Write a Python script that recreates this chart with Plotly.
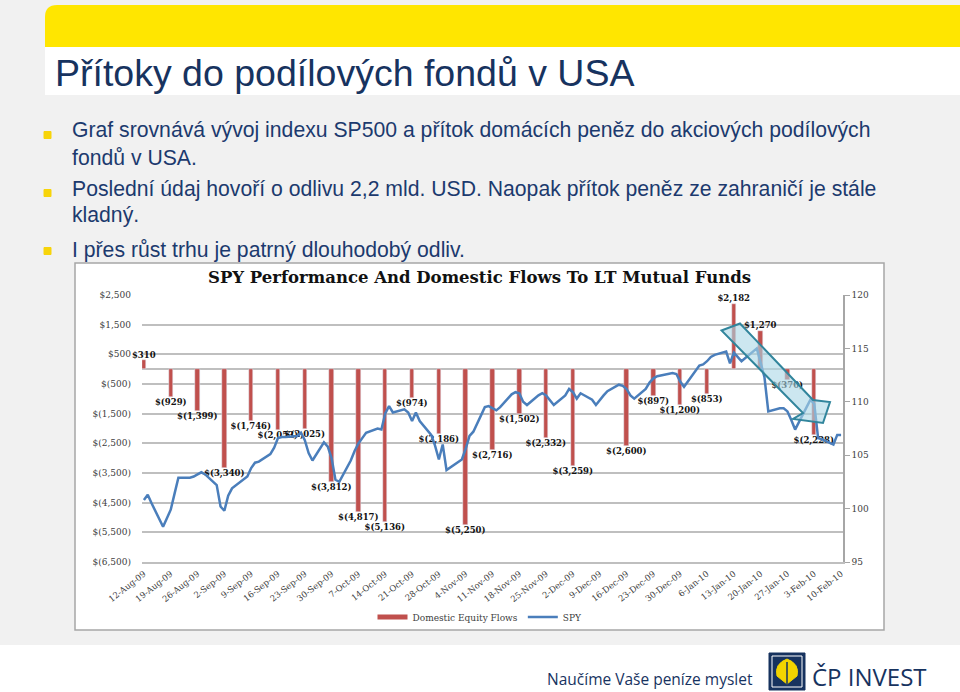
import pandas as pd
import plotly.graph_objects as go

# --- data ---
flow_dates = ["2009-08-12", "2009-08-19", "2009-08-26", "2009-09-02", "2009-09-09",
              "2009-09-16", "2009-09-23", "2009-09-30", "2009-10-07", "2009-10-14",
              "2009-10-21", "2009-10-28", "2009-11-04", "2009-11-11", "2009-11-18",
              "2009-11-25", "2009-12-02", "2009-12-16", "2009-12-23", "2009-12-30",
              "2010-01-06", "2010-01-13", "2010-01-20", "2010-01-27", "2010-02-03"]
flows = [310, -929, -1399, -3340, -1746, -2053, -2025, -3812, -4817, -5136,
         -974, -2186, -5250, -2716, -1502, -2332, -3259, -2600, -897, -1200,
         -853, 2182, 1270, -370, -2228]

market_holidays = ["2009-09-07", "2009-11-26", "2009-12-25", "2010-01-01", "2010-01-18"]
spy_dates = pd.bdate_range("2009-08-12", "2010-02-10", freq="C", holidays=market_holidays)
spy = [100.8, 101.3, 100.5,
       98.3, 99.1, 99.9, 101.4, 102.9,
       102.9, 103.0, 103.2, 103.4, 103.2,
       102.2, 100.2, 99.8, 101.2, 101.9,
       103.0, 103.8, 104.3, 104.4,
       105.1, 105.7, 106.6, 106.7, 106.7,
       106.8, 107.1, 106.4, 105.2, 104.5,
       106.2, 105.8, 104.7, 102.7, 102.5,
       104.5, 105.4, 106.1, 106.6, 107.1,
       107.5, 107.4, 108.9, 109.6, 109.0,
       109.3, 109.0, 108.2, 109.0, 108.2,
       106.9, 105.9, 104.6, 106.0, 103.6,
       104.3, 104.6, 105.6, 106.8, 107.2,
       109.5, 109.6, 109.4, 109.2, 109.5,
       110.7, 110.9, 110.8, 110.0, 109.7,
       110.6, 110.8, 110.6, 109.7,
       110.6, 111.2, 110.9, 110.3, 110.8,
       110.2, 109.7, 110.2, 110.6, 111.0,
       111.6, 111.5, 111.2, 110.6, 110.3,
       111.2, 111.8, 112.2, 112.4,
       112.7, 112.6, 111.9, 111.4,
       113.4, 113.5, 113.8, 114.2, 114.4,
       114.7, 113.6, 114.6, 114.2, 113.8,
       115.0, 113.6, 112.3, 109.1,
       109.4, 109.4, 109.1, 108.3, 107.4,
       109.5, 110.2, 109.8, 106.6, 106.5,
       106.0, 106.9, 106.9]

week_ticks = ["2009-08-12", "2009-08-19", "2009-08-26", "2009-09-02", "2009-09-09",
              "2009-09-16", "2009-09-23", "2009-09-30", "2009-10-07", "2009-10-14",
              "2009-10-21", "2009-10-28", "2009-11-04", "2009-11-11", "2009-11-18",
              "2009-11-25", "2009-12-02", "2009-12-09", "2009-12-16", "2009-12-23",
              "2009-12-30", "2010-01-06", "2010-01-13", "2010-01-20", "2010-01-27",
              "2010-02-03", "2010-02-10"]
week_labels = ["12-Aug-09", "19-Aug-09", "26-Aug-09", "2-Sep-09", "9-Sep-09",
               "16-Sep-09", "23-Sep-09", "30-Sep-09", "7-Oct-09", "14-Oct-09",
               "21-Oct-09", "28-Oct-09", "4-Nov-09", "11-Nov-09", "18-Nov-09",
               "25-Nov-09", "2-Dec-09", "9-Dec-09", "16-Dec-09", "23-Dec-09",
               "30-Dec-09", "6-Jan-10", "13-Jan-10", "20-Jan-10", "27-Jan-10",
               "3-Feb-10", "10-Feb-10"]

flow_ticks = [2500, 1500, 500, -500, -1500, -2500, -3500, -4500, -5500, -6500]
flow_tick_labels = ["$2,500", "$1,500", "$500", "$(500)", "$(1,500)", "$(2,500)",
                    "$(3,500)", "$(4,500)", "$(5,500)", "$(6,500)"]
spy_ticks = [95, 100, 105, 110, 115, 120]

bullets = [
    "Graf srovnává vývoj indexu SP500 a přítok domácích peněz do akciových podílových",
    "fondů v USA.",
    "Poslední údaj hovoří o odlivu 2,2 mld. USD. Naopak přítok peněz ze zahraničí je stále",
    "kladný.",
    "I přes růst trhu je patrný dlouhodobý odliv.",
]

W, H = 960, 692
RED = "#c0504d"
BLUE = "#4a7ebb"
NAVY = "#17335f"
SERIF = "DejaVu Serif"


def px(x):
    return x / W


def py(y):
    return 1 - y / H


def flow_label(v):
    return f"${v:,}" if v >= 0 else f"$({-v:,})"


fig = go.Figure()

fig.add_trace(go.Bar(
    x=flow_dates, y=flows, width=1.15 * 86400000,
    marker_color=RED, showlegend=False,
    text=[flow_label(v) for v in flows], textposition="outside",
    constraintext="none", cliponaxis=False,
    textfont=dict(family=SERIF, size=8.5, color="#111111", weight="bold"),
    hoverinfo="x+y",
))
fig.add_trace(go.Scatter(
    x=spy_dates, y=spy, yaxis="y2", mode="lines",
    line=dict(color=BLUE, width=2.5), showlegend=False,
))
# legend entries drawn as line samples
fig.add_trace(go.Scatter(x=[None], y=[None], mode="lines", name="Domestic Equity Flows",
                         line=dict(color=RED, width=5)))
fig.add_trace(go.Scatter(x=[None], y=[None], mode="lines", name="SPY",
                         line=dict(color=BLUE, width=2.5)))

shapes = [
    # yellow header band with rounded corner
    dict(type="path", xref="paper", yref="paper", layer="below",
         path=f"M {px(45)},{py(47)} L {px(45)},{py(17)} Q {px(45)},{py(5)} {px(57)},{py(5)} "
              f"L {px(960)},{py(5)} L {px(960)},{py(47)} Z",
         fillcolor="#ffe600", line=dict(width=0)),
    dict(type="rect", xref="paper", yref="paper", layer="below",
         x0=px(45), x1=px(960), y0=py(95), y1=py(47), fillcolor="white", line=dict(width=0)),
    # footer
    dict(type="rect", xref="paper", yref="paper", layer="below",
         x0=0, x1=1, y0=0, y1=py(645), fillcolor="white", line=dict(width=0)),
    # chart frame
    dict(type="rect", xref="paper", yref="paper", layer="below",
         x0=px(75), x1=px(884), y0=py(630), y1=py(263), fillcolor="white",
         line=dict(color="#a6a6a6", width=1.5)),
    # logo
    dict(type="rect", xref="paper", yref="paper",
         x0=px(769), x1=px(805), y0=py(690), y1=py(653), fillcolor=NAVY,
         line=dict(color=NAVY, width=1)),
    dict(type="rect", xref="paper", yref="paper",
         x0=px(772), x1=px(802), y0=py(687), y1=py(656), fillcolor=NAVY,
         line=dict(color="white", width=1)),
    dict(type="path", xref="paper", yref="paper",
         path=f"M {px(787)},{py(659)} Q {px(800)},{py(664)} {px(797)},{py(676)} "
              f"L {px(787)},{py(684)} L {px(777)},{py(676)} Q {px(774)},{py(664)} {px(787)},{py(659)} Z",
         fillcolor="#f2d400", line=dict(color="#f2d400", width=1)),
    dict(type="line", xref="paper", yref="paper",
         x0=px(787), x1=px(787), y0=py(684), y1=py(662), line=dict(color=NAVY, width=1.5)),
    # highlighted trend band
    dict(type="path", xref="paper", yref="paper",
         path=f"M {px(721.5)},{py(330.5)} L {px(740)},{py(323.5)} L {px(813)},{py(400)} "
              f"L {px(830)},{py(402)} L {px(823)},{py(423)} L {px(793)},{py(419)} "
              f"L {px(803)},{py(413)} Z",
         fillcolor="rgba(170,215,230,0.6)", line=dict(color="#31859c", width=2)),
]
for by in [135, 193, 251]:
    shapes.append(dict(type="rect", xref="paper", yref="paper",
                       x0=px(44), x1=px(51), y0=py(by + 3.5), y1=py(by - 3.5),
                       fillcolor="#f7d40a", line=dict(color="#f7d40a", width=1)))

annotations = [
    dict(text="Přítoky do podílových fondů v USA", x=px(53), y=py(73),
         font=dict(family="Liberation Sans", size=37.5, color=NAVY)),
    dict(text="SPY Performance And Domestic Flows To LT Mutual Funds", x=px(479), y=py(277),
         xanchor="center", font=dict(family=SERIF, size=16.5, color="#111111", weight="bold")),
    dict(text="Naučíme Vaše peníze myslet", x=px(545), y=py(679),
         font=dict(family="Open Sans", size=15.5, color=NAVY)),
    dict(text="ČP INVEST", x=px(810), y=py(676),
         font=dict(family="Open Sans", size=24, color=NAVY, weight=500)),
]
for text, ty in zip(bullets, [130, 157, 189, 215, 250]):
    annotations.append(dict(text=text, x=px(70), y=py(ty),
                            font=dict(family="Liberation Sans", size=21.2, color="#1c3a6e")))
for a in annotations:
    a.update(xref="paper", yref="paper", showarrow=False, yanchor="middle")
    a.setdefault("xanchor", "left")

fig.update_layout(
    width=W, height=H, margin=dict(l=0, r=0, t=0, b=0, pad=0, autoexpand=False),
    paper_bgcolor="#f1f1f1", plot_bgcolor="rgba(0,0,0,0)",
    shapes=shapes, annotations=annotations,
    bargap=0,
    xaxis=dict(
        type="date", domain=[px(142), px(843)], automargin=False,
        range=["2009-08-11 12:00", "2010-02-10 12:00"],
        tickvals=week_ticks, ticktext=week_labels, tickangle=-38,
        tickfont=dict(family=SERIF, size=8.5, color="#404040"),
        showgrid=False, showline=True, linecolor="#bfbfbf", linewidth=1.5,
        ticks="", ticklabelstandoff=2,
    ),
    yaxis=dict(
        domain=[py(562), py(295)], range=[-6500, 2500], automargin=False,
        tickvals=flow_ticks, ticktext=flow_tick_labels,
        tickfont=dict(family=SERIF, size=9, color="#404040"),
        showgrid=True, gridcolor="#bfbfbf", gridwidth=1.5,
        zeroline=True, zerolinecolor="#bfbfbf", zerolinewidth=1.5,
        ticks="", ticklabelstandoff=10,
    ),
    yaxis2=dict(
        overlaying="y", side="right", range=[95, 120], tickvals=spy_ticks, automargin=False,
        tickfont=dict(family=SERIF, size=9, color="#404040"),
        showgrid=False, zeroline=False, showline=True, linecolor="#a6a6a6", linewidth=1.5,
        ticks="outside", ticklen=5, tickcolor="#a6a6a6",
    ),
    legend=dict(orientation="h", x=0.5, xanchor="center", y=py(617), yanchor="middle",
                font=dict(family=SERIF, size=9, color="#404040"),
                bgcolor="rgba(0,0,0,0)"),
    showlegend=True,
)

fig.write_html("out.html", config={"displayModeBar": False},
               post_script="document.body.style.margin='0';")
